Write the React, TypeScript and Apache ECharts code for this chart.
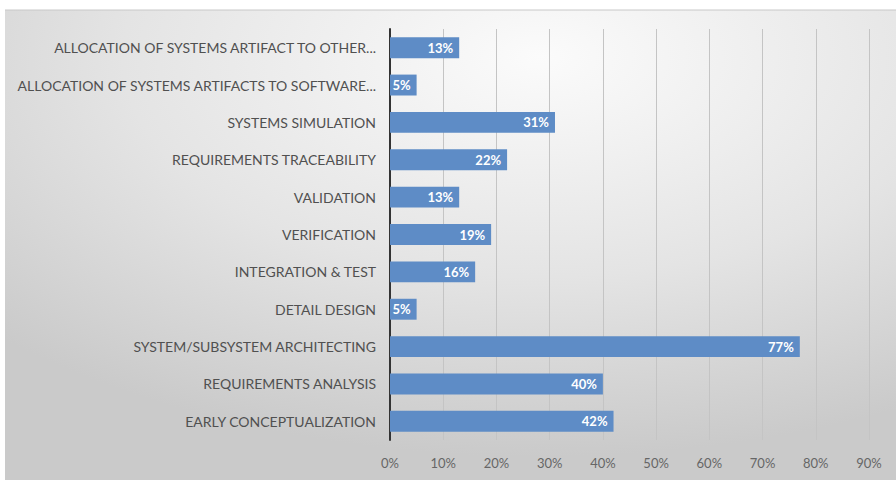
import React, { useEffect, useRef } from "react";
import * as echarts from "echarts";

const categories = [
  "EARLY CONCEPTUALIZATION",
  "REQUIREMENTS ANALYSIS",
  "SYSTEM/SUBSYSTEM ARCHITECTING",
  "DETAIL DESIGN",
  "INTEGRATION & TEST",
  "VERIFICATION",
  "VALIDATION",
  "REQUIREMENTS TRACEABILITY",
  "SYSTEMS SIMULATION",
  "ALLOCATION OF SYSTEMS ARTIFACTS TO SOFTWARE...",
  "ALLOCATION OF SYSTEMS ARTIFACT TO OTHER...",
];
const values = [42, 40, 77, 5, 16, 19, 13, 22, 31, 5, 13];
const axisMin = 0;
const axisMax = 90;
const axisStep = 10;

export default function App() {
  const ref = useRef<HTMLDivElement>(null);
  useEffect(() => {
    if (!ref.current) return;
    const chart = echarts.init(ref.current, null, { renderer: "svg" });
    const font = "Lato";
    chart.setOption({
      animation: false,
      graphic: [
        {
          type: "rect",
          z: -10,
          silent: true,
          shape: { x: 5, y: 10, width: 891, height: 470 },
          style: {
            fill: new echarts.graphic.RadialGradient(0.6, 0.1, 0.85, [
              { offset: 0, color: "#fbfbfb" },
              { offset: 0.55, color: "#e4e4e4" },
              { offset: 1, color: "#cacaca" },
            ]),
          },
        },
        {
          type: "line",
          z: -9,
          silent: true,
          shape: { x1: 5, y1: 10, x2: 896, y2: 10 },
          style: { stroke: "#c8c8c8", lineWidth: 1 },
        },
      ],
      grid: { left: 390, right: 27, top: 29, bottom: 40, containLabel: false },
      xAxis: {
        type: "value",
        min: axisMin,
        max: axisMax,
        interval: axisStep,
        axisLine: { show: false },
        axisTick: { show: false },
        splitLine: { show: true, lineStyle: { color: "#c4c4c4", width: 1 } },
        axisLabel: {
          formatter: "{value}%",
          color: "#666666",
          fontFamily: font,
          fontSize: 13,
          margin: 16,
        },
      },
      yAxis: {
        type: "category",
        data: categories,
        axisLine: { show: true, lineStyle: { color: "#333333", width: 2 } },
        axisTick: { show: false },
        axisLabel: {
          color: "#505050",
          fontFamily: font,
          fontSize: 14,
          margin: 14,
        },
      },
      series: [
        {
          type: "bar",
          data: values,
          barCategoryGap: "44%",
          itemStyle: { color: "#5e8cc6" },
          label: {
            show: true,
            position: "insideRight",
            formatter: "{c}%",
            color: "#ffffff",
            fontWeight: "bold",
            fontFamily: font,
            fontSize: 13,
            distance: 6,
          },
        },
      ],
    });
    return () => chart.dispose();
  }, []);
  return (
    <div
      ref={ref}
      style={{ position: "fixed", left: 0, top: 0, width: 896, height: 480, background: "#ffffff" }}
    />
  );
}
